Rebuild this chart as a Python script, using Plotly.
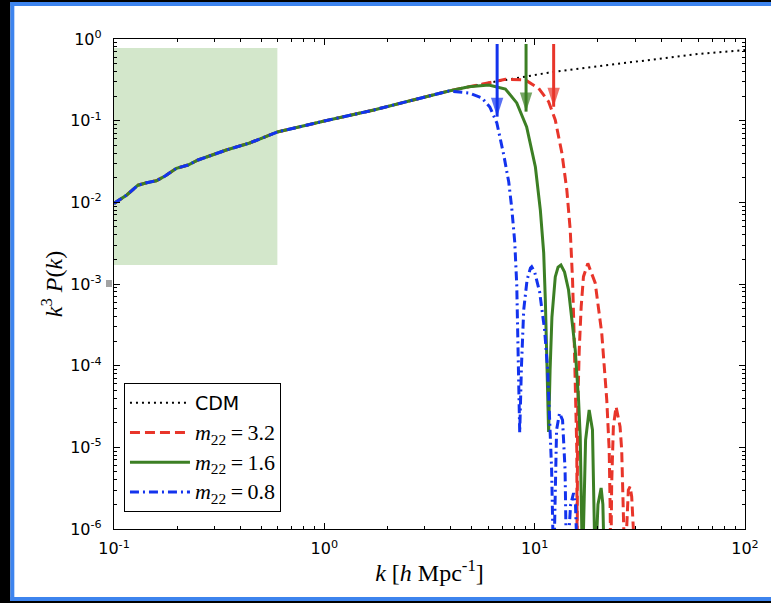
import plotly.graph_objects as go

# ---------------- data ----------------
k_cdm = [0.1, 0.115, 0.130, 0.143, 0.159, 0.175, 0.198, 0.225, 0.251, 0.285, 0.318, 0.342,
         0.442, 0.598, 1.0, 1.72, 2.53, 3.91, 4.87, 6.05, 8.09, 11.6, 16.7, 24.1, 33.5, 59.8, 100.0]
p_cdm = [0.0097, 0.0123, 0.0162, 0.0174, 0.0184, 0.0210, 0.0261, 0.0286, 0.0330, 0.0369, 0.0405, 0.0437,
         0.0533, 0.0727, 0.099, 0.135, 0.174, 0.231, 0.260, 0.292, 0.330, 0.387, 0.438, 0.490, 0.538, 0.655, 0.733]

# high-k tails of the FDM spectra (low-k part identical to CDM)
k_blue_tail = [4.87, 5.61, 6.12, 6.61, 7.13, 7.53, 7.78, 8.04, 8.22, 8.35, 8.45, 8.49, 8.65, 8.87,
               9.20, 9.55, 9.68, 10.0, 10.56, 11.15, 11.53, 11.78, 12.04, 12.31, 12.71, 13.13,
               13.57, 13.95, 14.18, 14.82, 15.31, 15.64, 15.99]
p_blue_tail = [0.218, 0.190, 0.147, 0.0936, 0.0380, 0.0177, 0.00853, 0.00327, 9.7e-4, 1.56e-4, 3.8e-5,
               1.5e-5, 9.6e-5, 4.8e-4, 1.12e-3, 1.57e-3, 1.63e-3, 1.40e-3, 7.98e-4, 2.73e-4, 8.85e-5,
               2.16e-5, 5.28e-6, 3e-7, 1.63e-5, 2.63e-5, 2.16e-5, 5.28e-6, 3e-7, 1.97e-6, 2.76e-6,
               1.97e-6, 3e-7]

k_green_tail = [6.05, 7.26, 8.22, 9.16, 10.08, 10.64, 11.04, 11.24, 11.44, 11.65, 11.84, 12.08, 12.53,
                12.92, 13.33, 13.87, 14.49, 15.59, 16.17, 16.47, 16.88, 17.46, 18.16, 18.83, 19.40,
                20.0, 20.70, 21.1, 21.47]
p_green_tail = [0.273, 0.244, 0.165, 0.0837, 0.0271, 0.00806, 0.0024, 6.37e-4, 8.85e-5, 1.54e-5, 8.85e-5,
                3.94e-4, 1.22e-3, 1.61e-3, 1.71e-3, 1.40e-3, 8.45e-4, 1.56e-4, 3.8e-5, 1.34e-5, 3e-7,
                1.23e-5, 2.87e-5, 1.63e-5, 3e-7, 2e-6, 3.18e-6, 2e-6, 3e-7]

k_red_tail = [7.26, 9.03, 10.45, 11.65, 12.53, 13.47, 14.22, 14.76, 15.14, 15.38, 15.64, 15.86, 15.93,
              15.99, 16.29, 16.64, 17.06, 17.90, 19.40, 20.84, 22.02, 22.61, 22.86, 23.0, 23.24, 23.67,
              24.38, 25.47, 25.93, 26.42, 26.85, 27.37, 27.88, 28.42, 28.93, 29.46, 29.94]
p_red_tail = [0.321, 0.315, 0.249, 0.171, 0.102, 0.0402, 0.01416, 0.00459, 1.12e-3, 2.73e-4, 5.04e-5,
              9.3e-6, 3e-7, 2.37e-5, 1.56e-4, 5.27e-4, 1.23e-3, 1.79e-3, 1.03e-3, 2.51e-4, 3.8e-5,
              9.3e-6, 1.71e-6, 3e-7, 3.66e-6, 1.79e-5, 3.15e-5, 1.79e-5, 9.3e-6, 1.71e-6, 3e-7,
              1.0e-6, 3.0e-6, 3.3e-6, 2.49e-6, 1.0e-6, 3e-7]

# half-power arrows
arrow_k = [6.63, 9.10, 12.31]
arrow_top = [0.869, 0.869, 0.869]
arrow_tip = [0.112, 0.129, 0.148]

# shaded region
shade_k = [0.1, 0.598]
shade_p = [1.71e-3, 0.776]

colors = {"cdm": "black", "red": "#e8352a", "green": "#3c7f24", "blue": "#1333ee"}

x_ticks = [0.1, 1, 10, 100]
x_ticktext = ["10<sup>-1</sup>", "10<sup>0</sup>", "10<sup>1</sup>", "10<sup>2</sup>"]
y_ticks = [1e-6, 1e-5, 1e-4, 1e-3, 1e-2, 1e-1, 1]
y_ticktext = ["10<sup>-6</sup>", "10<sup>-5</sup>", "10<sup>-4</sup>", "10<sup>-3</sup>",
              "10<sup>-2</sup>", "10<sup>-1</sup>", "10<sup>0</sup>"]


def shared(kmax):
    ks = [k for k in k_cdm if k <= kmax]
    return ks, p_cdm[:len(ks)]


kb0, pb0 = shared(3.91)
kg0, pg0 = shared(4.87)
kr0, pr0 = shared(6.05)

serif = "Liberation Serif"
thin = "\u2009"


def mname(v):
    return (f'<span style="font-family:{serif};font-size:22px"><i>m</i><sub>22</sub>'
            f'{thin}={thin}{v}</span>')


fig = go.Figure()

# shaded box
fig.add_trace(go.Scatter(
    x=[shade_k[0], shade_k[1], shade_k[1], shade_k[0], shade_k[0]],
    y=[shade_p[0], shade_p[0], shade_p[1], shade_p[1], shade_p[0]],
    fill="toself", fillcolor="#d3e7cb", mode="lines", line=dict(width=0),
    showlegend=False, hoverinfo="skip"))

fig.add_trace(go.Scatter(x=k_cdm, y=p_cdm, mode="lines", name="CDM", legendgroup="a",
                         line=dict(color=colors["cdm"], width=2, dash="2px,4px")))
fig.add_trace(go.Scatter(x=kr0 + k_red_tail, y=pr0 + p_red_tail, mode="lines", legendgroup="b",
                         name=mname("3.2"),
                         line=dict(color=colors["red"], width=3, dash="10px,5px")))
fig.add_trace(go.Scatter(x=kg0 + k_green_tail, y=pg0 + p_green_tail, mode="lines", legendgroup="c",
                         name=mname("1.6"),
                         line=dict(color=colors["green"], width=3)))
fig.add_trace(go.Scatter(x=kb0 + k_blue_tail, y=pb0 + p_blue_tail, mode="lines", legendgroup="d",
                         name=mname("0.8"),
                         line=dict(color=colors["blue"], width=3, dash="9px,4px,2px,4px")))

for kk, top, tip, c in zip(arrow_k, arrow_top, arrow_tip, ["blue", "green", "red"]):
    fig.add_trace(go.Scatter(
        x=[kk, kk], y=[top, tip], mode="lines+markers",
        line=dict(color=colors[c], width=3),
        marker=dict(symbol="arrow", angle=180, size=[0, 20], color=colors[c], line=dict(width=0)),
        showlegend=False, hoverinfo="skip"))

W, H = 771, 603
L, R, T, B = 114, 24, 39, 74
pw, ph = W - L - R, H - T - B


def px(x):
    return (x - L) / pw


def py(y):
    return (H - B - y) / ph


frame_blue = "#3d84ee"
shapes = [
    # black surround (left, top, bottom)
    dict(type="rect", xref="paper", yref="paper", x0=px(-5), x1=px(10), y0=py(610), y1=py(-5),
         fillcolor="black", line=dict(width=0), layer="below"),
    dict(type="rect", xref="paper", yref="paper", x0=px(-5), x1=px(780), y0=py(2), y1=py(-5),
         fillcolor="black", line=dict(width=0), layer="below"),
    dict(type="rect", xref="paper", yref="paper", x0=px(-5), x1=px(780), y0=py(610), y1=py(601),
         fillcolor="black", line=dict(width=0), layer="below"),
    # blue frame lines
    dict(type="line", xref="paper", yref="paper", x0=px(12), x1=px(12), y0=py(601), y1=py(2),
         line=dict(color=frame_blue, width=4), layer="below"),
    dict(type="line", xref="paper", yref="paper", x0=px(10), x1=px(780), y0=py(4), y1=py(4),
         line=dict(color=frame_blue, width=4), layer="below"),
    dict(type="line", xref="paper", yref="paper", x0=px(10), x1=px(780), y0=py(599), y1=py(599),
         line=dict(color=frame_blue, width=4), layer="below"),
    # small grey marker left of the axis
    dict(type="rect", xref="paper", yref="paper", x0=px(106), x1=px(112), y0=py(287), y1=py(280),
         fillcolor="#a3a3a3", line=dict(width=0), layer="above"),
]

minor_x = [m * 10 ** e for e in (-1, 0, 1) for m in range(2, 10)]
minor_y = [m * 10 ** e for e in (-6, -5, -4, -3, -2, -1) for m in range(2, 10)]

axis_common = dict(showgrid=False, zeroline=False, showline=True, linecolor="black", linewidth=1.3,
                   mirror="allticks", ticks="inside", ticklen=6, tickwidth=1, tickcolor="black",
                   tickfont=dict(family="DejaVu Sans", size=16, color="black"))

fig.update_layout(
    width=W, height=H,
    margin=dict(l=L, r=R, t=T, b=B),
    paper_bgcolor="white", plot_bgcolor="white",
    shapes=shapes,
    xaxis=dict(type="log", range=[-1, 2], tickmode="array", tickvals=x_ticks, ticktext=x_ticktext,
               ticklabelstandoff=5,
               minor=dict(tickmode="array", tickvals=minor_x, ticks="inside", ticklen=3,
                          tickcolor="black", showgrid=False),
               title=dict(text="<i>k</i> [<i>h</i> Mpc<sup>-1</sup>]",
                          font=dict(family=serif, size=24, color="black"), standoff=6),
               **axis_common),
    yaxis=dict(type="log", range=[-6, 0], tickmode="array", tickvals=y_ticks, ticktext=y_ticktext,
               ticklabelstandoff=8,
               minor=dict(tickmode="array", tickvals=minor_y, ticks="inside", ticklen=3,
                          tickcolor="black", showgrid=False),
               title=dict(text="<i>k</i><sup>3</sup> <i>P</i>(<i>k</i>)",
                          font=dict(family=serif, size=24, color="black"), standoff=0),
               **axis_common),
    legend=dict(x=px(124), y=py(383), xanchor="left", yanchor="top",
                bgcolor="white", bordercolor="black", borderwidth=1,
                font=dict(family="DejaVu Sans", size=19, color="black"),
                tracegroupgap=2, itemwidth=60),
    showlegend=True,
)

fig.write_html(
    "out.html",
    config={"displayModeBar": False},
    post_script=("document.documentElement.style.overflow='hidden';"
                 "document.body.style.overflow='hidden';document.body.style.margin='0';"),
)
